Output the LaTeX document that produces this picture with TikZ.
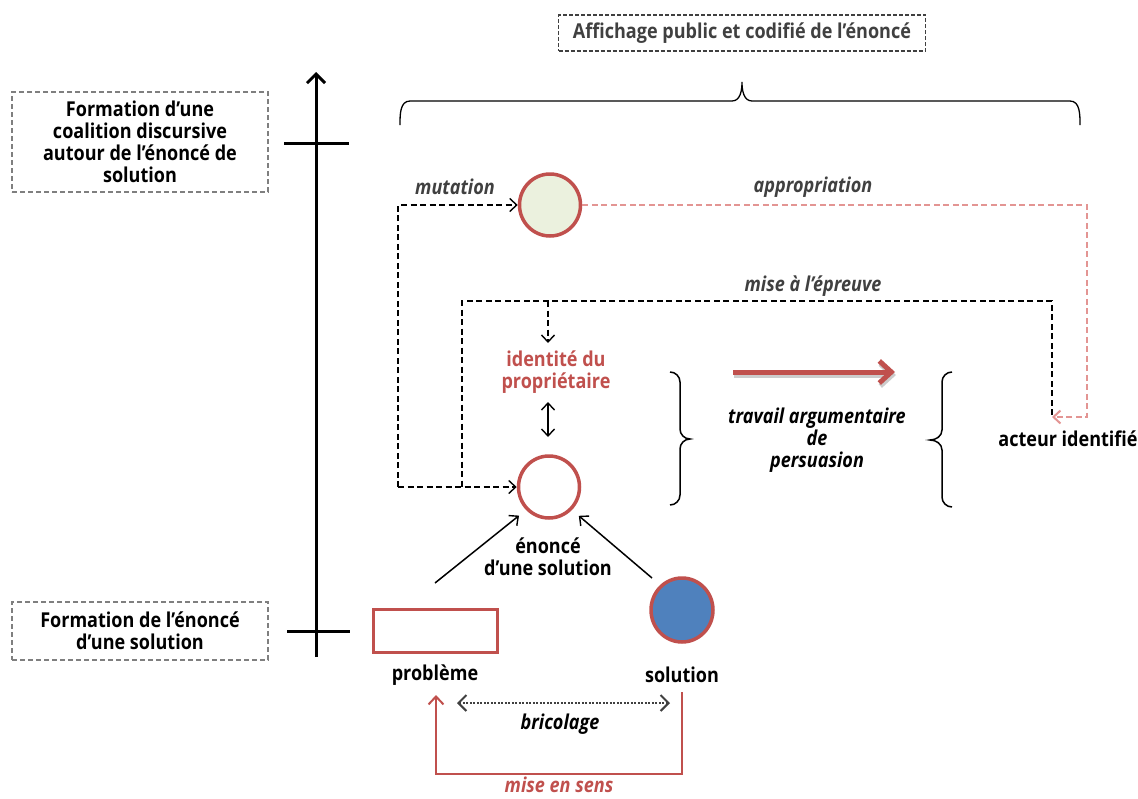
\documentclass[tikz,border=0pt]{standalone}
\usepackage{fontspec}
\setmainfont{Open Sans}[FakeStretch=0.88]
\usetikzlibrary{arrows.meta,shapes.geometric,calc}
\definecolor{myred}{HTML}{C0504D}
\definecolor{mypink}{HTML}{E39593}
\definecolor{mygrey}{HTML}{404040}
\definecolor{boxgrey}{HTML}{7F7F7F}
\definecolor{mygreen}{HTML}{EBF1DE}
\definecolor{myblue}{HTML}{4F81BD}
\begin{document}
\begin{tikzpicture}[x=1pt,y=-1pt,
  font=\fontsize{20.5}{22}\selectfont\bfseries,
  leftbox/.style={draw=boxgrey,dash pattern=on 5pt off 3pt,line width=1.1pt,align=center,inner sep=0pt},
  topbox/.style={draw=mygrey,dash pattern=on 4pt off 2pt,line width=1.3pt,text=mygrey,inner sep=0pt},
  redcirc/.style={ellipse,draw=myred,line width=3.5pt,minimum width=61pt,minimum height=62pt,inner sep=0pt},
  lab/.style={font=\fontsize{20.5}{22}\selectfont\bfseries\itshape,text=mygrey},
  blab/.style={font=\fontsize{20.5}{22}\selectfont\bfseries\itshape,text=black,align=center},
  dsh/.style={dash pattern=on 6pt off 3.5pt,line width=1.5pt},
  open/.style={-{Straight Barb[length=7pt,width=13pt,line width=1.4pt]}},
  brc/.style={line width=1.5pt,black},
]
\useasboundingbox (0,0) rectangle (1138,798);

% top box and brace
\node[topbox,minimum width=367pt,minimum height=36pt] (top) at (742,33) {Affichage public et codifié de l’énoncé};
\draw[brc,line width=1.3pt] (400,125) to[out=90,in=180] (410,101) -- (732,101) to[out=0,in=-90] (742,82)
  to[out=-90,in=180] (752,101) -- (1070,101) to[out=0,in=90] (1080,125);

% left boxes
\node[leftbox,minimum width=256pt,minimum height=100pt] (b1) at (140,142) {Formation d’une\\coalition discursive\\autour de l’énoncé de\\solution};
\node[leftbox,minimum width=256pt,minimum height=58pt] (b2) at (140,631) {Formation de l’énoncé\\d’une solution};

% axis
\coordinate (axB) at (316,657);
\coordinate (axT) at (316,72);
\draw[line width=3pt,-{Straight Barb[length=9pt,width=18pt,line width=3pt]}] (axB) -- (axT);
\coordinate (t1a) at (284,143); \coordinate (t1b) at (349,143);
\coordinate (t2a) at (287,631); \coordinate (t2b) at (350,631);
\draw[line width=3pt] (t1a) -- (t1b);
\draw[line width=3pt] (t2a) -- (t2b);

% circles
\node[redcirc,fill=mygreen] (mut) at (550,205) {};
\node[redcirc,fill=white] (en) at (549,487) {};
\node[redcirc,fill=myblue,minimum width=62pt,minimum height=64pt] (sol) at (682,610) {};
\node[draw=myred,line width=3pt,fill=white,minimum width=124pt,minimum height=43pt,inner sep=0pt] (prob) at (435,630.5) {};

% texts
\node (ident) [text=myred,align=center] at (556,372) {identité du\\propriétaire};
\node (enl) [align=center] at (548,557) {énoncé\\d’une solution};
\node (probl) at (435,675) {problème};
\node (soll) at (682,675) {solution};
\node (act) at (1068,439) {acteur identifié};
\node[blab] (trav) at (817,440) {travail argumentaire\\de\\persuasion};
\node[lab] (mutl) at (455,187) {mutation};
\node[lab] (appl) at (813,187) {appropriation};
\node[lab] (misl) at (813,286) {mise à l’épreuve};
\node[blab] (bric) at (560,724) {bricolage};
\node[lab,text=myred] (sensl) at (559,785) {mise en sens};

% mutation
\coordinate (mc) at (398,487);
\draw[dsh,open] (mc) |- (mut.west);
\draw[dsh,open] (mc) -- (en.west);
% appropriation
\coordinate (ac) at (1052,417);
\draw[dsh,mypink,line width=2.2pt,-{Straight Barb[length=7pt,width=13pt,line width=2pt]}] (mut.east) -| (1087,417) -- (ac);
% mise a l'epreuve
\coordinate (me) at (1052,415);
\coordinate (mi) at (462,487);
\draw[dsh] (me) |- (462,301) -- (mi);
\draw[dsh,open] (548,301) -- (548,343);
% identity double arrow
\draw[line width=1.4pt,{Straight Barb[length=7pt,width=13pt,line width=1.4pt]}-{Straight Barb[length=7pt,width=13pt,line width=1.4pt]}] (548,402) -- (548,437);

% braces
\draw[brc] (670,372) to[out=0,in=90] (680,382) -- (680,429) to[out=-90,in=180] (690,439)
  to[out=180,in=90] (680,449) -- (680,495) to[out=-90,in=0] (670,505);
\draw[brc] (952,372) to[out=180,in=90] (942,382) -- (942,430) to[out=-90,in=0] (930,440)
  to[out=0,in=90] (942,450) -- (942,497) to[out=-90,in=180] (952,507);

% red thick arrow
\coordinate (ra) at (733,372); \coordinate (rb) at (895,372);
\draw[line width=5pt,black!20,-{Straight Barb[length=12pt,width=22pt,line width=5pt]}] ($(ra)+(1,3)$) -- ($(rb)+(1,3)$);
\draw[line width=5pt,myred,-{Straight Barb[length=12pt,width=22pt,line width=5pt]}] (ra) -- (rb);

% arrows to enonce
\coordinate (p1) at (435,583); \coordinate (p2) at (652,578);
\draw[line width=1.5pt,open,shorten >=9pt] (p1) -- (en.225);
\draw[line width=1.5pt,open,shorten >=9pt] (p2) -- (en.-45);

% bricolage
\coordinate (bA) at (457,703); \coordinate (bB) at (670,703);
\draw[mygrey,line width=2pt,dash pattern=on 2pt off 1.5pt,{Straight Barb[length=8pt,width=16pt,line width=2pt]}-{Straight Barb[length=8pt,width=16pt,line width=2pt]}] (bA) -- (bB);

% mise en sens
\coordinate (sA) at (682,692); \coordinate (sB) at (436,695);
\draw[myred,line width=2pt,-{Straight Barb[length=8pt,width=15pt,line width=2pt]}] (sA) |- (436,774) -- (sB);
\end{tikzpicture}
\end{document}
